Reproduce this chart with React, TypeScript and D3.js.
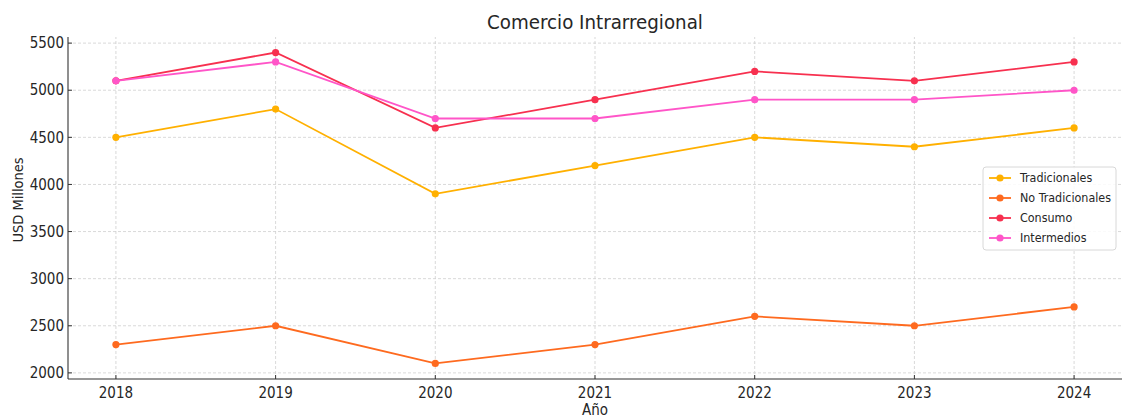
import React from 'react';
import * as d3 from 'd3';

const years = [2018, 2019, 2020, 2021, 2022, 2023, 2024];
const tradicionales = [4500, 4800, 3900, 4200, 4500, 4400, 4600];
const noTradicionales = [2300, 2500, 2100, 2300, 2600, 2500, 2700];
const consumo = [5100, 5400, 4600, 4900, 5200, 5100, 5300];
const intermedios = [5100, 5300, 4700, 4700, 4900, 4900, 5000];
const yTicks = [2000, 2500, 3000, 3500, 4000, 4500, 5000, 5500];

const series = [
    { name: 'Tradicionales', values: tradicionales, color: '#ffb000' },
    { name: 'No Tradicionales', values: noTradicionales, color: '#fe6a1f' },
    { name: 'Consumo', values: consumo, color: '#f7304f' },
    { name: 'Intermedios', values: intermedios, color: '#ff55c8' },
];

const W = 1124;
const H = 417;
const margin = { top: 37, right: 2, bottom: 38, left: 68 };
const font = '"DejaVu Sans Condensed", "DejaVu Sans", sans-serif';

const App: React.FC = () => {
    const x = d3.scaleLinear().domain([2017.7, 2024.3]).range([margin.left, W - margin.right]);
    const y = d3.scaleLinear().domain([1935, 5565]).range([H - margin.bottom, margin.top]);
    const line = d3.line<number>()
        .x((_, i) => x(years[i]))
        .y(d => y(d));

    const x0 = margin.left;
    const x1 = W - margin.right;
    const y0 = H - margin.bottom;
    const y1 = margin.top;

    return (
        <svg width={W} height={H} style={{ position: 'absolute', left: 0, top: 0, background: '#fff' }} fontFamily={font}>
            {/* grid */}
            {yTicks.map(t => (
                <line key={'gy' + t} x1={x0} x2={x1} y1={y(t)} y2={y(t)} stroke="#cfcfcf" strokeWidth={0.8} strokeDasharray="3,2" />
            ))}
            {years.map(t => (
                <line key={'gx' + t} x1={x(t)} x2={x(t)} y1={y0} y2={y1} stroke="#cfcfcf" strokeWidth={0.8} strokeDasharray="3,2" />
            ))}

            {/* series */}
            {series.map(s => (
                <g key={s.name}>
                    <path d={line(s.values) ?? ''} fill="none" stroke={s.color} strokeWidth={1.8} />
                    {s.values.map((v, i) => (
                        <circle key={i} cx={x(years[i])} cy={y(v)} r={3.6} fill={s.color} />
                    ))}
                </g>
            ))}

            {/* axes */}
            <line x1={x0} x2={x0} y1={y1} y2={y0} stroke="#333" strokeWidth={1.1} />
            <line x1={x0} x2={x1} y1={y0} y2={y0} stroke="#333" strokeWidth={1.1} />
            {yTicks.map(t => (
                <g key={'ty' + t}>
                    <line x1={x0} x2={x0 + 4} y1={y(t)} y2={y(t)} stroke="#333" strokeWidth={1} />
                    <text x={x0 - 4} y={y(t)} dy="0.35em" textAnchor="end" fontSize={15} fill="#262626">{t}</text>
                </g>
            ))}
            {years.map(t => (
                <g key={'tx' + t}>
                    <line x1={x(t)} x2={x(t)} y1={y0} y2={y0 - 4} stroke="#333" strokeWidth={1} />
                    <text x={x(t)} y={y0 + 19} textAnchor="middle" fontSize={15} fill="#262626">{t}</text>
                </g>
            ))}

            {/* labels */}
            <text x={(x0 + x1) / 2} y={29} textAnchor="middle" fontSize={20.3} fill="#262626">Comercio Intrarregional</text>
            <text x={(x0 + x1) / 2} y={415} textAnchor="middle" fontSize={15} fill="#262626">Año</text>
            <text transform="translate(23,200) rotate(-90)" textAnchor="middle" fontSize={14.5} fill="#262626">USD Millones</text>

            {/* legend */}
            <g transform="translate(983,167)">
                <rect x={0} y={0} width={133} height={83} rx={3} fill="#fff" fillOpacity={0.85} stroke="#d8d8d8" strokeWidth={1} />
                {series.map((s, i) => (
                    <g key={s.name} transform={`translate(0,${11 + i * 20})`}>
                        <line x1={6} x2={28} y1={0} y2={0} stroke={s.color} strokeWidth={1.8} />
                        <circle cx={17} cy={0} r={3.6} fill={s.color} />
                        <text x={37} y={0} dy="0.35em" fontSize={12.4} fill="#262626">{s.name}</text>
                    </g>
                ))}
            </g>
        </svg>
    );
};

export default App;
